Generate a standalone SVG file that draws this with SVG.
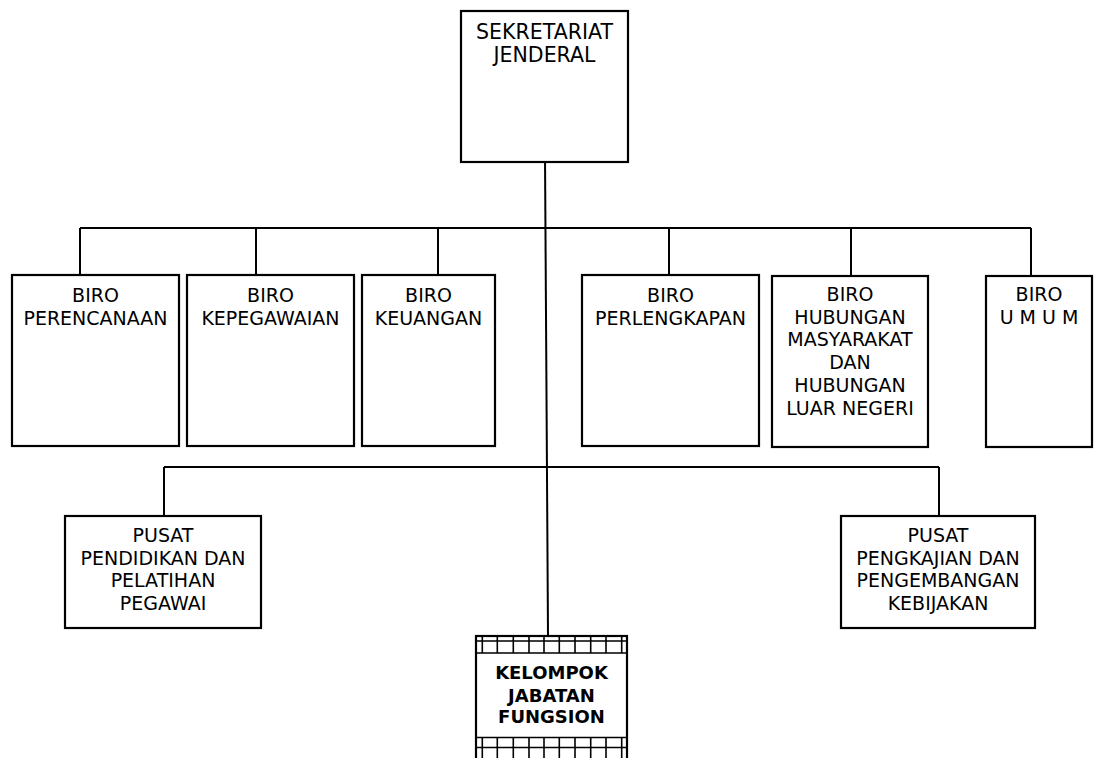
<svg xmlns="http://www.w3.org/2000/svg" width="1094" height="758" viewBox="0 0 1094 758">
<style>
.box{fill:#fff;stroke:#000;stroke-width:2.2}
.ln{fill:none;stroke:#000;stroke-width:2}
.t{font-family:"DejaVu Sans",Verdana,sans-serif;font-size:19px;fill:#000;text-anchor:middle}
.tb{font-family:"DejaVu Sans",Verdana,sans-serif;font-size:18px;font-weight:bold;fill:#000;text-anchor:middle}
.grid{fill:none;stroke:#000;stroke-width:1.6}
</style>
<rect width="1094" height="758" fill="#fff"/>
<g id="connectors">
<path class="ln" d="M80,228 H1031 M80,228 V275 M256,228 V275 M438,228 V275 M669,228 V275 M851,228 V276 M1031,228 V276"/>
<path class="ln" d="M164,467 H939 M164,467 V516 M939,467 V516"/>
<line class="ln" x1="545" y1="155" x2="548" y2="636"/>
</g>
<g id="sekjen">
<rect class="box" x="461" y="11" width="167" height="151"/>
<text class="t" style="font-size:20.5px" x="544.5" y="38.5">SEKRETARIAT</text>
<text class="t" style="font-size:20.5px" x="544.5" y="62">JENDERAL</text>
</g>
<g id="biro-perencanaan">
<rect class="box" x="12" y="275" width="167" height="171"/>
<text class="t" x="95.5" y="301.5">BIRO</text>
<text class="t" x="95.5" y="324.5">PERENCANAAN</text>
</g>
<g id="biro-kepegawaian">
<rect class="box" x="187" y="275" width="167" height="171"/>
<text class="t" x="270.5" y="301.5">BIRO</text>
<text class="t" x="270.5" y="324.5">KEPEGAWAIAN</text>
</g>
<g id="biro-keuangan">
<rect class="box" x="362" y="275" width="133" height="171"/>
<text class="t" x="428.5" y="301.5">BIRO</text>
<text class="t" x="428.5" y="324.5">KEUANGAN</text>
</g>
<g id="biro-perlengkapan">
<rect class="box" x="582" y="275" width="177" height="171"/>
<text class="t" x="670.5" y="301.5">BIRO</text>
<text class="t" x="670.5" y="324.5">PERLENGKAPAN</text>
</g>
<g id="biro-humas">
<rect class="box" x="772" y="276" width="156" height="171"/>
<text class="t" x="850" y="301">BIRO</text>
<text class="t" x="850" y="323.7">HUBUNGAN</text>
<text class="t" x="850" y="346.4">MASYARAKAT</text>
<text class="t" x="850" y="369.1">DAN</text>
<text class="t" x="850" y="391.8">HUBUNGAN</text>
<text class="t" x="850" y="414.5">LUAR NEGERI</text>
</g>
<g id="biro-umum">
<rect class="box" x="986" y="276" width="106" height="171"/>
<text class="t" x="1039" y="301">BIRO</text>
<text class="t" x="1039" y="323.7">U M U M</text>
</g>
<g id="pusdiklat">
<rect class="box" x="65" y="516" width="196" height="112"/>
<text class="t" x="163" y="542">PUSAT</text>
<text class="t" x="163" y="564.5">PENDIDIKAN DAN</text>
<text class="t" x="163" y="587">PELATIHAN</text>
<text class="t" x="163" y="609.5">PEGAWAI</text>
</g>
<g id="puslitbang">
<rect class="box" x="841" y="516" width="194" height="112"/>
<text class="t" x="938" y="542">PUSAT</text>
<text class="t" x="938" y="564.5">PENGKAJIAN DAN</text>
<text class="t" x="938" y="587">PENGEMBANGAN</text>
<text class="t" x="938" y="609.5">KEBIJAKAN</text>
</g>
<g id="kelompok-jabatan">
<rect class="box" x="476" y="636" width="151" height="130"/>
<path class="grid" d="M476,641 H627 M476,653 H627 M476,737.5 H627 M476,747.5 H627
M482.3,636 V653 M497.3,636 V653 M513.3,636 V653 M529,636 V653 M544,636 V653 M559.3,636 V653 M575,636 V653 M590.7,636 V653 M606,636 V653 M621.7,636 V653
M482.3,737.5 V758 M497.3,737.5 V758 M513.3,737.5 V758 M529,737.5 V758 M544,737.5 V758 M559.3,737.5 V758 M575,737.5 V758 M590.7,737.5 V758 M606,737.5 V758 M621.7,737.5 V758"/>
<text class="tb" x="551.5" y="679">KELOMPOK</text>
<text class="tb" x="551.5" y="701.5">JABATAN</text>
<text class="tb" x="551.5" y="723">FUNGSION</text>
</g>
</svg>
